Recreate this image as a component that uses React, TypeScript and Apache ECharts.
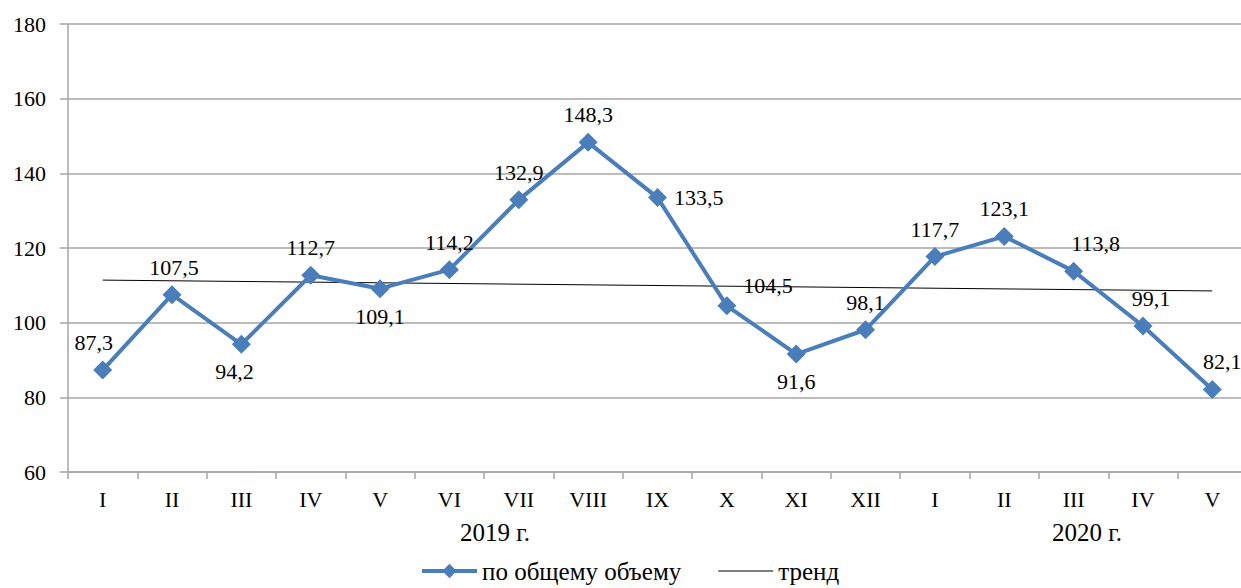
import React, { useEffect, useRef } from "react";
import * as echarts from "echarts";

const categories = ["I", "II", "III", "IV", "V", "VI", "VII", "VIII", "IX", "X", "XI", "XII", "I", "II", "III", "IV", "V"];
const volumeValues = [87.3, 107.5, 94.2, 112.7, 109.1, 114.2, 132.9, 148.3, 133.5, 104.5, 91.6, 98.1, 117.7, 123.1, 113.8, 99.1, 82.1];
const trendEnds = [111.4, 108.5];
const yearLabels = ["2019 г.", "2020 г."];
const seriesNames = ["по общему объему", "тренд"];

// label placement per point: [position, offsetX, offsetY]
const labelPlacement: [string, number, number][] = [
  ["top", -9, 0], ["top", 2, 0], ["bottom", -7, 0], ["top", 0, 0], ["bottom", 0, 0],
  ["top", 0, 0], ["top", 0, 0], ["top", 0, 0], ["right", 0, 0], ["right", 0, -20],
  ["bottom", 0, 0], ["top", 0, 0], ["top", 0, 0], ["top", 0, 0], ["top", 22, 0],
  ["top", 8, 0], ["top", 10, 0],
];

const FONT = "serif";

export default function App() {
  const ref = useRef<HTMLDivElement>(null);
  useEffect(() => {
    if (!ref.current) return;
    const chart = echarts.init(ref.current, null, { renderer: "svg" });
    const blue = "#4A7EBB";
    const data = volumeValues.map((v, i) => {
      const [pos, ox, oy] = labelPlacement[i];
      return {
        value: v,
        label: { position: pos, offset: [ox, oy] },
      };
    });
    chart.setOption({
      animation: false,
      textStyle: { fontFamily: FONT, color: "#000" },
      grid: { left: 68, top: 24, bottom: 116, right: 3, containLabel: false },
      xAxis: {
        type: "category",
        data: categories,
        boundaryGap: true,
        axisLine: { show: true, lineStyle: { color: "#a6a6a6", width: 1.5 } },
        axisTick: { show: true, length: 7, alignWithLabel: false, lineStyle: { color: "#a6a6a6", width: 1.5 } },
        axisLabel: { fontFamily: FONT, fontSize: 22, color: "#000", margin: 16, interval: 0 },
      },
      yAxis: {
        type: "value",
        min: 60,
        max: 180,
        interval: 20,
        axisLine: { show: true, lineStyle: { color: "#a6a6a6", width: 1.5 } },
        axisTick: { show: true, length: 8, lineStyle: { color: "#a6a6a6", width: 1.5 } },
        axisLabel: { fontFamily: FONT, fontSize: 22, color: "#000", margin: 22 },
        splitLine: { show: true, lineStyle: { color: "#a6a6a6", width: 1.5 } },
      },
      legend: {
        top: 558,
        left: 420,
        padding: 0,
        itemWidth: 55,
        itemHeight: 18,
        itemGap: 37,
        textStyle: { fontFamily: FONT, fontSize: 25, color: "#000", lineHeight: 26 },
        data: [
          { name: seriesNames[0], lineStyle: { width: 4, color: blue } },
          { name: seriesNames[1], icon: "path://M0,0 L50,0 L50,1 L0,1 Z", itemStyle: { color: "#000" } },
        ],
      },
      graphic: [
        { type: "text", left: 460, top: 520, style: { text: yearLabels[0], fontFamily: FONT, fontSize: 25, fill: "#000" } },
        { type: "text", left: 1052, top: 520, style: { text: yearLabels[1], fontFamily: FONT, fontSize: 25, fill: "#000" } },
      ],
      series: [
        {
          name: seriesNames[1],
          type: "line",
          data: [[0, trendEnds[0]], [categories.length - 1, trendEnds[1]]],
          showSymbol: false,
          symbol: "none",
          lineStyle: { color: "#000", width: 1 },
          itemStyle: { color: "#000" },
          z: 3,
        },
        {
          name: seriesNames[0],
          type: "line",
          data,
          symbol: "diamond",
          symbolSize: 19,
          lineStyle: { color: blue, width: 4 },
          itemStyle: { color: blue },
          label: {
            show: true,
            distance: 7,
            fontFamily: FONT,
            fontSize: 22,
            color: "#000",
            formatter: (p: any) => String(p.value).replace(".", ","),
          },
          z: 4,
        },
      ],
    });
    return () => chart.dispose();
  }, []);
  return (
    <div style={{ position: "absolute", left: 0, top: 0, width: 1241, height: 588, overflow: "hidden", background: "#fff" }}>
      <div ref={ref} style={{ width: 1250, height: 588 }} />
    </div>
  );
}
